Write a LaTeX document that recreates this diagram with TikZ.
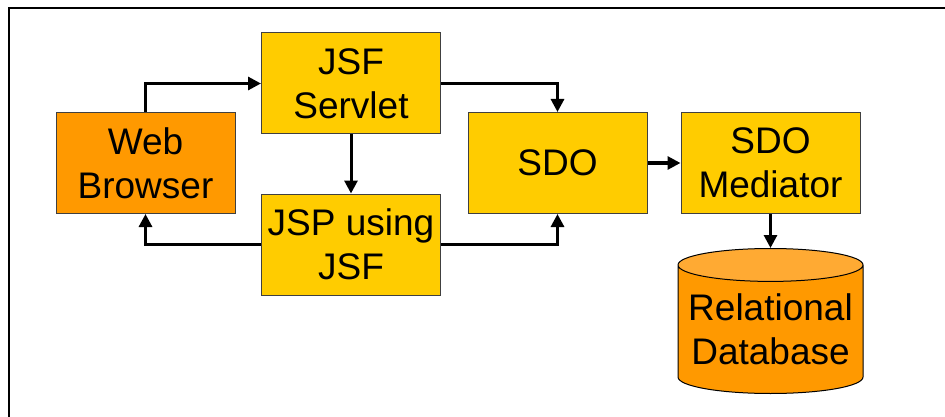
\documentclass[tikz,border=0pt]{standalone}
\usepackage{fontspec}
\setmainfont{Liberation Sans}
\usepackage{tikz}
\usetikzlibrary{shapes,shapes.geometric,positioning,arrows.meta,calc}
\definecolor{myorange}{RGB}{255,153,0}
\definecolor{myyellow}{RGB}{255,204,0}
\definecolor{mytop}{RGB}{255,170,51}
\definecolor{myedge}{RGB}{64,64,64}

\begin{document}
\begin{tikzpicture}
[
  x=1pt, y=1pt,
  box/.style={rectangle, draw=myedge, line width=1pt, fill=#1, minimum width=179pt, minimum height=101pt,
    align=center, inner sep=0pt, font=\fontsize{37}{44}\selectfont},
  store/.style={cylinder, shape border rotate=90, draw=black, line width=1pt, aspect=0.2,
    minimum width=185pt, minimum height=145pt, cylinder uses custom fill,
    cylinder body fill=myorange, cylinder end fill=mytop,
    align=center, inner sep=0pt, font=\fontsize{37}{44}\selectfont},
  flow/.style={line width=3pt, -{Triangle[length=13pt,width=13pt]}}
]
\useasboundingbox (0,0) rectangle (945,-417);
\draw [line width=1.5pt] (945,-8) -- (9,-8) -- (9,-417);

\node (browser) [box=myorange] at (145.5,-163) {Web\\Browser};
\node (servlet) [box=myyellow] at (351,-83.5) {JSF\\Servlet};
\node (jsp) [below=59pt of servlet, box=myyellow] {JSP using\\JSF};
\node (sdo) [right=232pt of browser, box=myyellow] {SDO};
\node (mediator) [right=33pt of sdo, box=myyellow] {SDO\\Mediator};
\node (db) [below=34pt of mediator, store] {Relational\\Database};

\draw [flow] (browser.north) |- (servlet.west);
\draw [flow] (servlet) -- (jsp);
\draw [flow] (servlet.east) -| (sdo.north);
\draw [flow] (jsp.east) -| (sdo.south);
\draw [flow] (jsp.west) -| (browser.south);
\draw [flow] (sdo) -- (mediator);
\draw [flow] (mediator) -- (db);
\end{tikzpicture}
\end{document}
